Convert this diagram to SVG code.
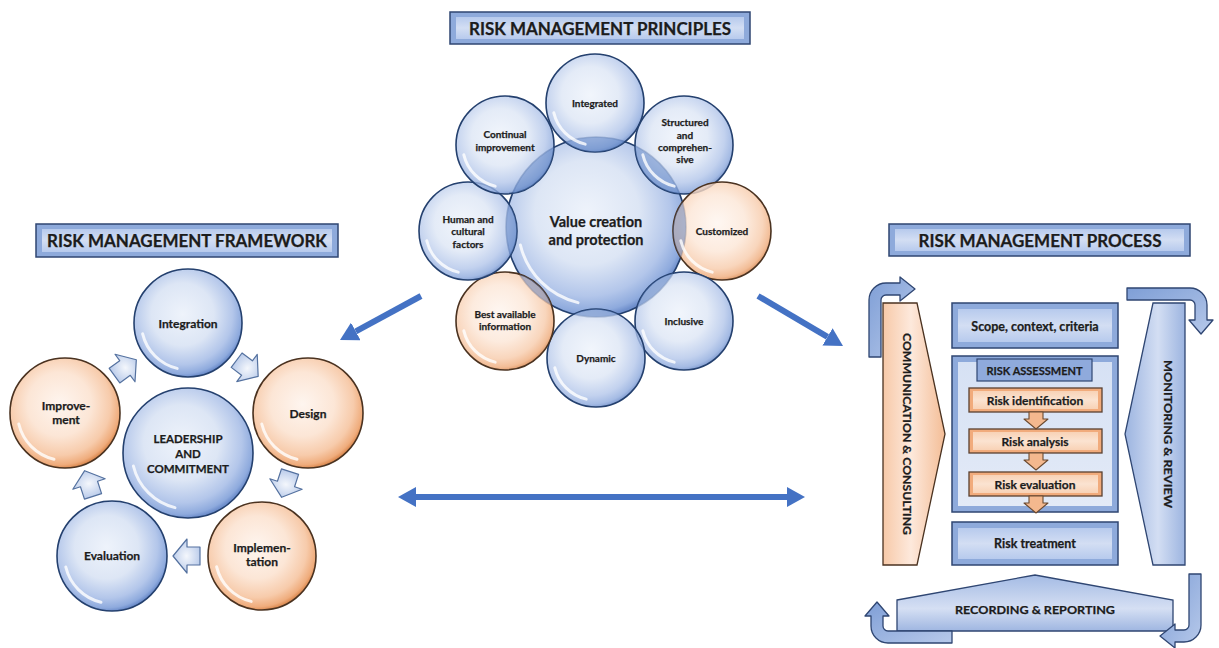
<svg xmlns="http://www.w3.org/2000/svg" xmlns:xlink="http://www.w3.org/1999/xlink" width="1219" height="648" viewBox="0 0 1219 648">
  <defs>
    <style>
      .t { font-family: Lato, "Liberation Sans", "DejaVu Sans", sans-serif; font-weight: 700; fill: #1c1c1c; stroke: #1c1c1c; stroke-width: 0.25; text-anchor: middle; }
      .bc { fill: url(#gBlue); stroke: #24406e; stroke-width: 1.6; }
      .oc { fill: url(#gOrange); stroke: #4a3220; stroke-width: 1.6; }
      .sat { fill-opacity: 0.8; }
      .lens { fill: #5b80c2; fill-opacity: 0.42; stroke: none; }
      .hl { fill: none; stroke: #ffffff; stroke-opacity: 0.8; stroke-width: 3; stroke-linecap: round; }
      .tb-out { fill: #8eaadb; stroke: #2f4672; stroke-width: 1.5; }
      .tb-in { fill: url(#gBar); }
      .bx-in { fill: url(#gBarLight); }
      .ob-out { fill: #f1ab7c; stroke: #5a4030; stroke-width: 1.3; }
      .ob-in { fill: url(#gOrBar); }
      .small-arrow { fill: url(#gSmall); stroke: #54719f; stroke-width: 1.2; stroke-linejoin: round; }
      .down-arrow { fill: #f4b88e; stroke: #6b4a30; stroke-width: 1.1; stroke-linejoin: round; }
      .bend { fill: url(#gBend); stroke: #2f4672; stroke-width: 1.3; stroke-linejoin: round; }
      .conn { stroke: #4472c4; stroke-width: 6; fill: none; }
    </style>
    <radialGradient id="gBlue" cx="45%" cy="42%" r="58%">
      <stop offset="0" stop-color="#eef3fb"/>
      <stop offset="0.5" stop-color="#dde6f5"/>
      <stop offset="0.8" stop-color="#b3c6ea"/>
      <stop offset="0.95" stop-color="#8eaadd"/>
      <stop offset="1" stop-color="#6f8fcc"/>
    </radialGradient>
    <radialGradient id="gOrange" cx="45%" cy="42%" r="58%">
      <stop offset="0" stop-color="#fef5ef"/>
      <stop offset="0.5" stop-color="#fce6d6"/>
      <stop offset="0.8" stop-color="#f7cbab"/>
      <stop offset="0.95" stop-color="#efac7c"/>
      <stop offset="1" stop-color="#de8e56"/>
    </radialGradient>
    <linearGradient id="gBar" x1="0" y1="0" x2="0" y2="1">
      <stop offset="0" stop-color="#b7caed"/>
      <stop offset="0.5" stop-color="#d3def3"/>
      <stop offset="1" stop-color="#b7caed"/>
    </linearGradient>
    <linearGradient id="gBarLight" x1="0" y1="0" x2="0" y2="1">
      <stop offset="0" stop-color="#d6e1f4"/>
      <stop offset="1" stop-color="#e3eaf7"/>
    </linearGradient>
    <linearGradient id="gOrBar" x1="0" y1="0" x2="0" y2="1">
      <stop offset="0" stop-color="#f8d2b6"/>
      <stop offset="0.5" stop-color="#fbe3d1"/>
      <stop offset="1" stop-color="#f8d2b6"/>
    </linearGradient>
    <linearGradient id="gComm" x1="0" y1="0" x2="1" y2="0">
      <stop offset="0" stop-color="#f7c9a8"/>
      <stop offset="0.45" stop-color="#fde9dc"/>
      <stop offset="1" stop-color="#f4bd96"/>
    </linearGradient>
    <linearGradient id="gMon" x1="0" y1="0" x2="1" y2="0">
      <stop offset="0" stop-color="#9cb4e0"/>
      <stop offset="0.55" stop-color="#d3def3"/>
      <stop offset="1" stop-color="#9cb4e0"/>
    </linearGradient>
    <linearGradient id="gRec" x1="0" y1="0" x2="0" y2="1">
      <stop offset="0" stop-color="#a4bbe4"/>
      <stop offset="0.6" stop-color="#d5dff3"/>
      <stop offset="1" stop-color="#9fb6e1"/>
    </linearGradient>
    <linearGradient id="gBend" x1="0" y1="0" x2="1" y2="1">
      <stop offset="0" stop-color="#7e9ed6"/>
      <stop offset="1" stop-color="#b7c9ea"/>
    </linearGradient>
    <radialGradient id="gSmall" cx="50%" cy="50%" r="60%">
      <stop offset="0" stop-color="#f4f7fc"/>
      <stop offset="1" stop-color="#b3c6e8"/>
    </radialGradient>
    <clipPath id="centerClip">
      <circle cx="596" cy="227" r="90"/>
    </clipPath>
    <!-- gloss arc for a unit circle; scaled per node -->
    <path id="hl" d="M-0.2,0.84 A0.865,0.865 0 0 1 -0.84,0.2" class="hl" vector-effect="non-scaling-stroke"/>
    <!-- small block arrow pointing along +x -->
    <path id="blk" d="M14,0 L0,-17 L0,-9 L-13,-9 L-13,9 L0,9 L0,17 Z" class="small-arrow"/>
    <path id="dn" d="M-7,0 L7,0 L7,7 L12,7 L0,17 L-12,7 L-7,7 Z" class="down-arrow"/>
    <marker id="head" viewBox="0 0 18 20" refX="0" refY="10" markerUnits="userSpaceOnUse" markerWidth="18" markerHeight="20" orient="auto-start-reverse">
      <path d="M0,0 L18,10 L0,20 Z" fill="#4472c4"/>
    </marker>
  </defs>

  <rect width="1219" height="648" fill="#ffffff"/>

  <!-- ===== Principles ===== -->
  <g id="title-principles">
    <rect x="450" y="12" width="300" height="32" class="tb-out"/>
    <rect x="456" y="17" width="288" height="22" class="tb-in"/>
    <text x="600" y="34.5" class="t" font-size="16.5" textLength="262" lengthAdjust="spacingAndGlyphs">RISK MANAGEMENT PRINCIPLES</text>
  </g>

  <g id="p-center">
    <circle cx="596" cy="227" r="90" class="bc"/>
    <use href="#hl" transform="translate(596,227) scale(90)"/>
    <text x="596" y="227" class="t" font-size="14.5">Value creation</text>
    <text x="596" y="245" class="t" font-size="14.5">and protection</text>
  </g>
  <g id="p-integrated">
    <circle cx="595" cy="103" r="49" class="bc sat"/>
    <circle cx="595" cy="103" r="49" class="lens" clip-path="url(#centerClip)"/>
    <use href="#hl" transform="translate(595,103) scale(49)"/>
    <text x="595" y="107" class="t" font-size="10">Integrated</text>
  </g>
  <g id="p-structured">
    <circle cx="684" cy="145" r="49" class="bc sat"/>
    <circle cx="684" cy="145" r="49" class="lens" clip-path="url(#centerClip)"/>
    <use href="#hl" transform="translate(684,145) scale(49)"/>
    <text x="685" y="126" class="t" font-size="10">Structured</text>
    <text x="685" y="139" class="t" font-size="10">and</text>
    <text x="685" y="151" class="t" font-size="10">comprehen-</text>
    <text x="685" y="163" class="t" font-size="10">sive</text>
  </g>
  <g id="p-customized">
    <circle cx="722" cy="231" r="49" class="oc sat"/>
    <circle cx="722" cy="231" r="49" class="lens" clip-path="url(#centerClip)"/>
    <use href="#hl" transform="translate(722,231) scale(49)"/>
    <text x="722" y="235" class="t" font-size="10">Customized</text>
  </g>
  <g id="p-inclusive">
    <circle cx="684" cy="321" r="49" class="bc sat"/>
    <circle cx="684" cy="321" r="49" class="lens" clip-path="url(#centerClip)"/>
    <use href="#hl" transform="translate(684,321) scale(49)"/>
    <text x="684" y="325" class="t" font-size="10">Inclusive</text>
  </g>
  <g id="p-dynamic">
    <circle cx="596" cy="358" r="49" class="bc sat"/>
    <circle cx="596" cy="358" r="49" class="lens" clip-path="url(#centerClip)"/>
    <use href="#hl" transform="translate(596,358) scale(49)"/>
    <text x="596" y="362" class="t" font-size="10">Dynamic</text>
  </g>
  <g id="p-best">
    <circle cx="505" cy="321" r="49" class="oc sat"/>
    <circle cx="505" cy="321" r="49" class="lens" clip-path="url(#centerClip)"/>
    <use href="#hl" transform="translate(505,321) scale(49)"/>
    <text x="505" y="318" class="t" font-size="10">Best available</text>
    <text x="505" y="330" class="t" font-size="10">information</text>
  </g>
  <g id="p-human">
    <circle cx="468" cy="231" r="49" class="bc sat"/>
    <circle cx="468" cy="231" r="49" class="lens" clip-path="url(#centerClip)"/>
    <use href="#hl" transform="translate(468,231) scale(49)"/>
    <text x="468" y="223" class="t" font-size="10">Human and</text>
    <text x="468" y="235" class="t" font-size="10">cultural</text>
    <text x="468" y="248" class="t" font-size="10">factors</text>
  </g>
  <g id="p-continual">
    <circle cx="505" cy="145" r="49" class="bc sat"/>
    <circle cx="505" cy="145" r="49" class="lens" clip-path="url(#centerClip)"/>
    <use href="#hl" transform="translate(505,145) scale(49)"/>
    <text x="505" y="138" class="t" font-size="10">Continual</text>
    <text x="505" y="151" class="t" font-size="10">improvement</text>
  </g>

  <!-- ===== Framework ===== -->
  <g id="title-framework">
    <rect x="36" y="224" width="302" height="33" class="tb-out"/>
    <rect x="42" y="229" width="290" height="23" class="tb-in"/>
    <text x="187" y="246.5" class="t" font-size="16.5" textLength="280" lengthAdjust="spacingAndGlyphs">RISK MANAGEMENT FRAMEWORK</text>
  </g>
  <g id="f-integration">
    <circle cx="188" cy="323" r="54" class="bc"/>
    <use href="#hl" transform="translate(188,323) scale(54)"/>
    <text x="188" y="328" class="t" font-size="12">Integration</text>
  </g>
  <g id="f-design">
    <circle cx="308" cy="413" r="55" class="oc"/>
    <use href="#hl" transform="translate(308,413) scale(55)"/>
    <text x="308" y="418" class="t" font-size="12">Design</text>
  </g>
  <g id="f-implementation">
    <circle cx="262" cy="556" r="54" class="oc"/>
    <use href="#hl" transform="translate(262,556) scale(54)"/>
    <text x="262" y="552" class="t" font-size="12">Implemen-</text>
    <text x="262" y="566" class="t" font-size="12">tation</text>
  </g>
  <g id="f-evaluation">
    <circle cx="112" cy="556" r="55" class="bc"/>
    <use href="#hl" transform="translate(112,556) scale(55)"/>
    <text x="112" y="560" class="t" font-size="12">Evaluation</text>
  </g>
  <g id="f-improvement">
    <circle cx="65" cy="413" r="55" class="oc"/>
    <use href="#hl" transform="translate(65,413) scale(55)"/>
    <text x="66" y="410" class="t" font-size="12">Improve-</text>
    <text x="66" y="424" class="t" font-size="12">ment</text>
  </g>
  <g id="f-leadership">
    <circle cx="188" cy="453" r="65" class="bc"/>
    <use href="#hl" transform="translate(188,453) scale(65)"/>
    <text x="188" y="443" class="t" font-size="11.5">LEADERSHIP</text>
    <text x="188" y="458" class="t" font-size="11.5">AND</text>
    <text x="188" y="473" class="t" font-size="11.5">COMMITMENT</text>
  </g>

  <!-- ===== Process ===== -->
  <g id="title-process">
    <rect x="889" y="224" width="301" height="32" class="tb-out"/>
    <rect x="895" y="229" width="289" height="22" class="tb-in"/>
    <text x="1040" y="246.5" class="t" font-size="16.5" textLength="243" lengthAdjust="spacingAndGlyphs">RISK MANAGEMENT PROCESS</text>
  </g>
  <g id="communication">
    <path d="M883,303 L917,303 L945,434 L917,565 L883,565 Z" fill="url(#gComm)" stroke="#4a3220" stroke-width="1.3"/>
    <text transform="translate(903,434) rotate(90)" class="t" font-size="12" textLength="202" lengthAdjust="spacingAndGlyphs">COMMUNICATION &amp; CONSULTING</text>
  </g>
  <g id="monitoring">
    <path d="M1153,303 L1185,303 L1185,565 L1153,565 L1125,434 Z" fill="url(#gMon)" stroke="#2f4672" stroke-width="1.3"/>
    <text transform="translate(1164,434) rotate(90)" class="t" font-size="12" textLength="148" lengthAdjust="spacingAndGlyphs">MONITORING &amp; REVIEW</text>
  </g>
  <g id="scope">
    <rect x="952" y="303" width="166" height="45" class="tb-out"/>
    <rect x="958" y="309" width="154" height="33" class="tb-in"/>
    <text x="1035" y="330.5" class="t" font-size="12.5">Scope, context, criteria</text>
  </g>
  <g id="assessment">
    <rect x="952" y="356" width="166" height="156" class="tb-out"/>
    <rect x="958" y="362" width="154" height="144" class="bx-in"/>
    <rect x="977" y="359" width="115" height="22" fill="#8faadc" stroke="#2f4672" stroke-width="1.2"/>
    <text x="1034.5" y="374.5" class="t" font-size="11">RISK ASSESSMENT</text>
  </g>
  <g id="identification">
    <rect x="969" y="388" width="133" height="24" class="ob-out"/>
    <rect x="973" y="391" width="125" height="18" class="ob-in"/>
    <text x="1035" y="404.5" class="t" font-size="12">Risk identification</text>
  </g>
  <g id="analysis">
    <rect x="969" y="429" width="133" height="24" class="ob-out"/>
    <rect x="973" y="432" width="125" height="18" class="ob-in"/>
    <text x="1035" y="445.5" class="t" font-size="12">Risk analysis</text>
  </g>
  <g id="evaluation">
    <rect x="969" y="472" width="133" height="24" class="ob-out"/>
    <rect x="973" y="475" width="125" height="18" class="ob-in"/>
    <text x="1035" y="488.5" class="t" font-size="12">Risk evaluation</text>
  </g>
  <g id="treatment">
    <rect x="952" y="522" width="166" height="43" class="tb-out"/>
    <rect x="958" y="528" width="154" height="31" class="tb-in"/>
    <text x="1035" y="547.5" class="t" font-size="12.5">Risk treatment</text>
  </g>
  <g id="recording">
    <path d="M897,600 L1035,575 L1173,600 L1173,631 L897,631 Z" fill="url(#gRec)" stroke="#2f4672" stroke-width="1.3"/>
    <text x="1035" y="613.5" class="t" font-size="12" textLength="160" lengthAdjust="spacingAndGlyphs">RECORDING &amp; REPORTING</text>
  </g>

  <!-- ===== Connectors ===== -->
  <g id="connectors">
    <!-- framework cycle -->
    <use href="#blk" transform="translate(247,368) rotate(37)"/>
    <use href="#blk" transform="translate(286,484) rotate(108)"/>
    <use href="#blk" transform="translate(187,556) rotate(180)"/>
    <use href="#blk" transform="translate(89,484) rotate(252)"/>
    <use href="#blk" transform="translate(125,368) rotate(324)"/>
    <!-- assessment steps -->
    <use href="#dn" transform="translate(1036,412)"/>
    <use href="#dn" transform="translate(1036,453)"/>
    <use href="#dn" transform="translate(1036,496)"/>
    <!-- process loop arrows -->
    <path class="bend" d="M869,357 L869,300 A17,17 0 0 1 886,283 L900,283 L900,277 L915,289 L900,301 L900,295 L886,295 A5,5 0 0 0 881,300 L881,357 Z"/>
    <path class="bend" d="M1127,288 L1190,288 A17,17 0 0 1 1207,305 L1207,320 L1213,320 L1201,334 L1189,320 L1195,320 L1195,305 A5,5 0 0 0 1190,300 L1127,300 Z"/>
    <path class="bend" d="M1189,574 L1201,574 L1201,625 A17,17 0 0 1 1184,642 L1175,642 L1175,648 L1160,636 L1175,624 L1175,630 L1184,630 A5,5 0 0 0 1189,625 Z"/>
    <path class="bend" d="M952,643 L888,643 A17,17 0 0 1 871,626 L871,616 L865,616 L877,602 L889,616 L883,616 L883,626 A5,5 0 0 0 888,631 L952,631 Z"/>
    <!-- links between the three parts -->
    <line class="conn" x1="421" y1="296" x2="355.8" y2="331.4" marker-end="url(#head)"/>
    <line class="conn" x1="758" y1="296" x2="827.5" y2="336.9" marker-end="url(#head)"/>
    <line class="conn" x1="416" y1="497" x2="787" y2="497" marker-start="url(#head)" marker-end="url(#head)"/>
  </g>
</svg>
